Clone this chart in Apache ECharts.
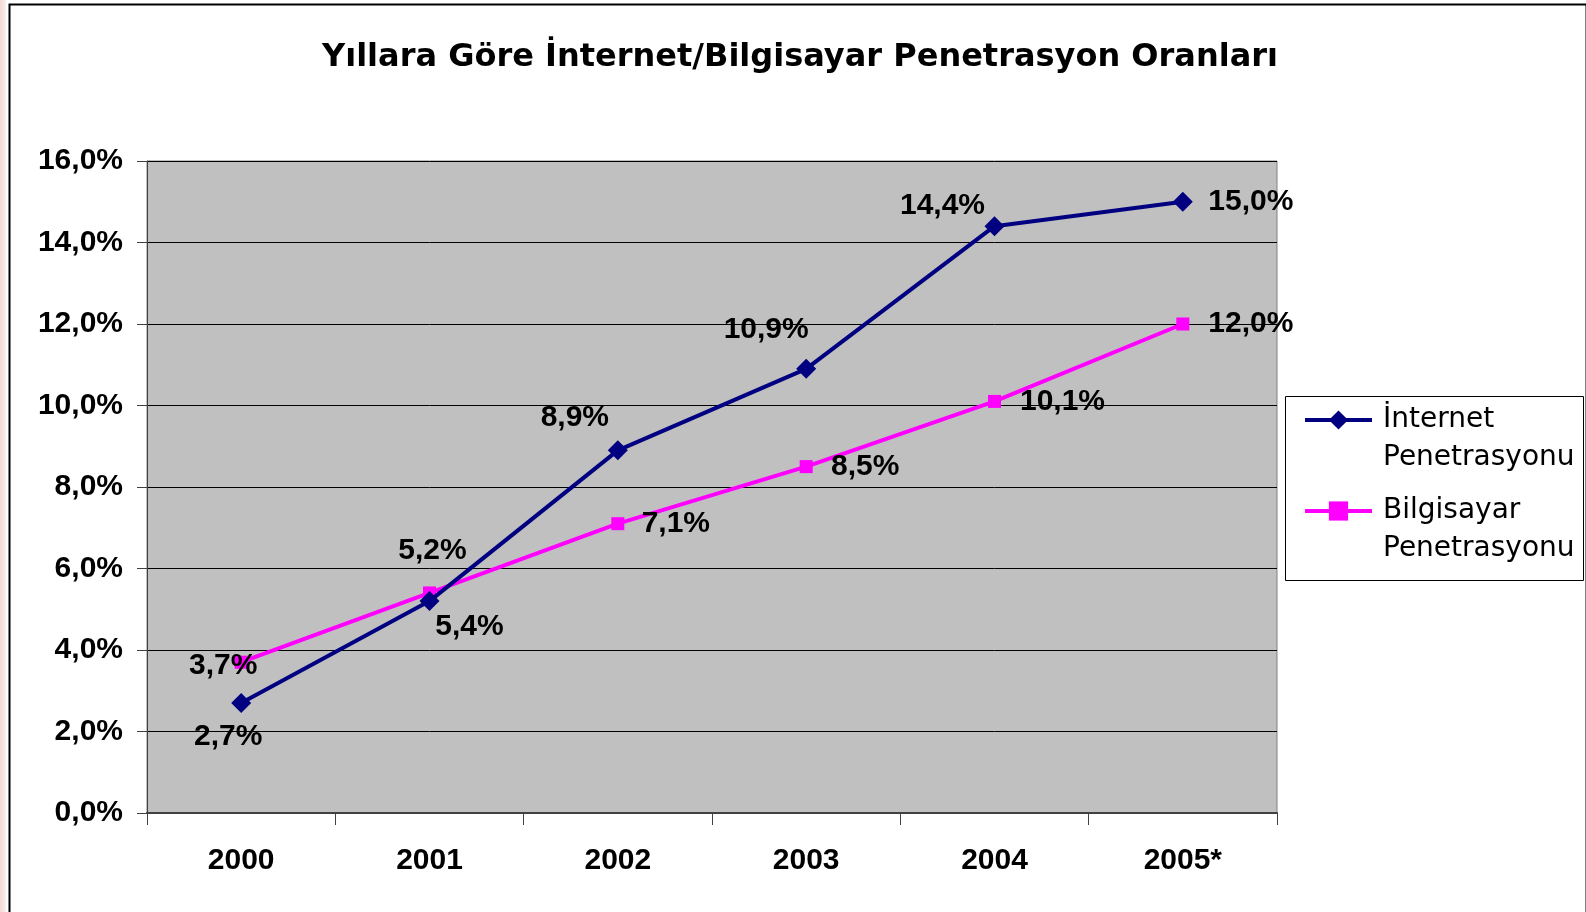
<!DOCTYPE html>
<html><head><meta charset="utf-8">
<script src="https://cdn.jsdelivr.net/npm/echarts@6/dist/echarts.min.js"></script>
<style>html,body{margin:0;padding:0;background:#fff}#c{width:1586px;height:912px}</style>
</head><body><div id="c"></div>
<script>
const categories = ['2000','2001','2002','2003','2004','2005*'];
const internetValues = [2.7, 5.2, 8.9, 10.9, 14.4, 15.0];
const bilgisayarValues = [3.7, 5.4, 7.1, 8.5, 10.1, 12.0];
const seriesNames = ['İnternet Penetrasyonu', 'Bilgisayar Penetrasyonu'];
const titleText = 'Yıllara Göre İnternet/Bilgisayar Penetrasyon Oranları';

const internetLabelOffsets = [[-13,34],[3,-50],[-43,-33],[-40,-39],[-52,-20],[68,0]];
const bilgisayarLabelOffsets = [[-18,4],[40,34],[58,0],[59,0],[68,0],[68,0]];

const fmt = v => v.toFixed(1).replace('.', ',') + '%';
const FONT = '"Liberation Sans", Arial, sans-serif';

function mkData(vals, offs) {
  return vals.map((v, i) => ({ value: v, label: { offset: offs[i] } }));
}
const labelStyle = {
  show: true, position: 'inside', formatter: p => fmt(p.value),
  fontFamily: FONT, fontWeight: 'bold', fontSize: 30, color: '#000',
  align: 'center', verticalAlign: 'middle'
};
function mkLegend(name, top) {
  return {
    orient: 'vertical', left: 1303, top: top, padding: 0,
    itemWidth: 67, itemHeight: 24,
    lineStyle: { width: 4 },
    formatter: n => ' \n' + n.replace(' ', '\n'),
    textStyle: { fontFamily: '"DejaVu Sans", sans-serif', fontSize: 28, color: '#000',
                 lineHeight: 38, padding: [0, 0, 0, 6] },
    data: [name]
  };
}

const chart = echarts.init(document.getElementById('c'));
chart.setOption({
  animation: false,
  backgroundColor: '#fff',
  title: {
    text: titleText, left: 795, top: 37, textAlign: 'center',
    textStyle: { fontFamily: '"DejaVu Sans", sans-serif', fontWeight: 'bold', fontSize: 32, color: '#000' }
  },
  grid: { left: 147, top: 161, right: 1586 - 1277, bottom: 912 - 813, containLabel: false,
          show: true, backgroundColor: '#C0C0C0', borderColor: '#808080', borderWidth: 1 },
  legend: [ mkLegend(seriesNames[0], 363), mkLegend(seriesNames[1], 454) ],
  xAxis: {
    type: 'category', data: categories, boundaryGap: true,
    axisLine: { lineStyle: { color: '#404040', width: 2 } },
    axisTick: { show: true, length: 12, interval: 0, lineStyle: { color: '#404040' } },
    axisLabel: { margin: 33, fontFamily: FONT, fontWeight: 'bold', fontSize: 30, color: '#000' }
  },
  yAxis: {
    type: 'value', min: 0, max: 16, interval: 2,
    axisLine: { show: true, lineStyle: { color: '#404040', width: 1 } },
    axisTick: { show: true, length: 10, lineStyle: { color: '#404040' } },
    splitLine: { lineStyle: { color: '#000', width: 1 } },
    axisLabel: { margin: 24, formatter: v => fmt(v), fontFamily: FONT, fontWeight: 'bold', fontSize: 30, color: '#000' }
  },
  series: [
    {
      name: seriesNames[0], type: 'line', data: mkData(internetValues, internetLabelOffsets),
      symbol: 'diamond', symbolSize: 20,
      lineStyle: { color: '#000080', width: 4 }, itemStyle: { color: '#000080' },
      label: labelStyle, z: 3
    },
    {
      name: seriesNames[1], type: 'line', data: mkData(bilgisayarValues, bilgisayarLabelOffsets),
      symbol: 'rect', symbolSize: 13,
      lineStyle: { color: '#FF00FF', width: 4 }, itemStyle: { color: '#FF00FF' },
      label: labelStyle, z: 2
    }
  ],
  graphic: [
    { type: 'rect', left: 0, top: 0, shape: { width: 6, height: 912 },
      style: { fill: { type: 'linear', x: 0, y: 0, x2: 1, y2: 0,
        colorStops: [{ offset: 0, color: '#f3d9d4' }, { offset: 1, color: '#fbeeec' }] } }, silent: true },
    { type: 'rect', left: 7, top: 2, shape: { width: 1577, height: 930 },
      style: { fill: 'none', stroke: '#000', lineWidth: 2 }, silent: true, z: -1 },
    { type: 'rect', left: 1285, top: 396, shape: { width: 298, height: 184 },
      style: { fill: '#fff', stroke: '#000', lineWidth: 1 }, silent: true, z: -1 }
  ]
});
</script></body></html>
